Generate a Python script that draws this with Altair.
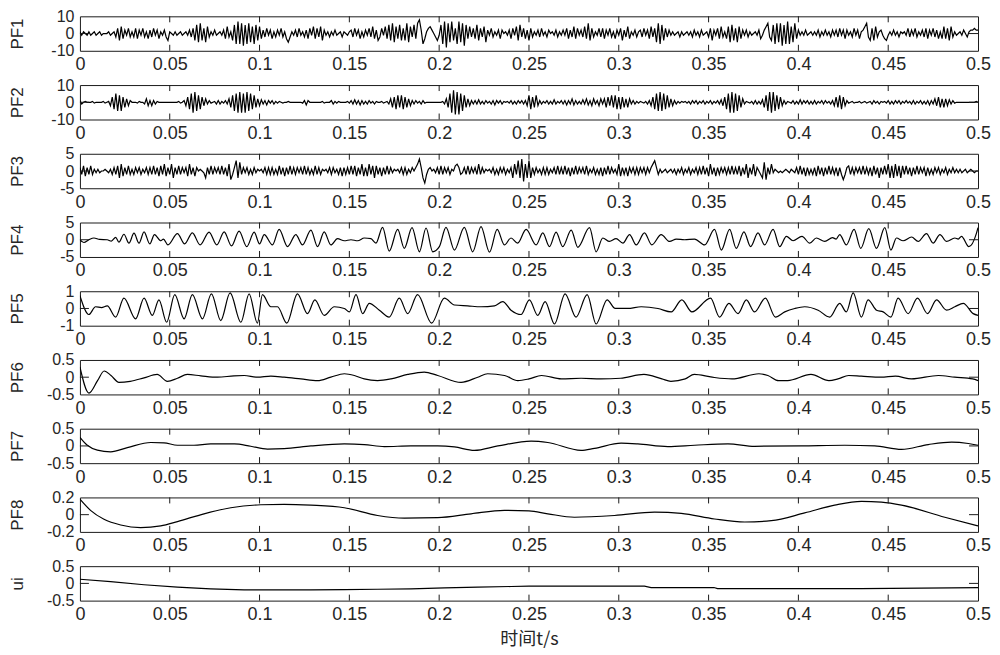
import altair as alt
import pandas as pd

# ---------------- data ----------------
X_TICKS = [0, 0.05, 0.1, 0.15, 0.2, 0.25, 0.3, 0.35, 0.4, 0.45, 0.5]

# PF1..PF3: one value per millisecond, t = 0 ... 500 ms
PF1 = [
    1, -1, 1, 0, -1, 1, -1, 0, 1, -1,
    0, 1, -1, 0, 0, 0, 1, -1, 0, 1,
    -2, 3, -4, 4, -3, 2, -1, 3, -2, 1,
    -2, 3, -3, 2, -1, 3, -2, 1, -3, 2,
    -2, 3, -1, 2, -3, 1, -1, 2, -2, -4,
    1, 0, -1, 1, -1, 0, 1, -1, 0, 1,
    -1, 2, -2, 3, -4, 5, -5, 6, -4, 3,
    -5, 4, -2, 1, -1, 2, -1, 0, 1, -1,
    2, -3, 4, -2, 1, -4, 5, -6, 7, -6,
    6, -7, 5, -6, 6, -5, 4, -6, 5, -4,
    4, -3, 2, -2, 3, -1, 2, -3, 1, -2,
    2, -1, 3, -2, 1, -3, -5, -2, 1, -1,
    2, -2, 3, -1, 1, -2, 2, -3, 3, -1,
    4, -3, 3, -2, 4, -4, 2, -1, 1, -2,
    1, -1, 2, -1, 0, 1, -2, 1, 0, -1,
    1, 2, -2, 3, -1, 2, -3, 1, -2, 2,
    -1, 3, -2, 4, -3, 2, -4, -2, 3, -1,
    4, -3, 5, -4, 6, -5, 4, -3, 5, -4,
    3, -4, 6, -5, 4, -2, 5, -3, 6, 8,
    2, -6, -3, 1, 3, 4, 2, 0, -2, -4,
    -1, 5, -6, 7, -8, 6, -5, 7, -4, 3,
    -6, 7, -5, 6, -7, 5, -3, 4, -2, 3,
    -3, 5, -4, 3, -2, 4, -5, 2, -1, 3,
    -2, 1, -1, 2, -3, 2, 0, 1, -1, 2,
    -3, 3, -1, 4, -4, 5, -2, 3, -3, 2,
    -4, 3, -2, 1, -1, 2, -2, 3, -1, 1,
    -2, 2, 0, 1, -1, 2, -2, 1, -1, 2,
    -1, 3, -3, 2, -2, 4, -3, 3, -1, 2,
    -2, 4, -3, 6, -4, 3, -2, 1, -1, 3,
    -2, 3, -3, 2, -1, 3, -2, 1, -3, 2,
    -1, 3, -4, 2, -2, 4, -3, 1, -1, 2,
    -2, 1, 2, -2, 3, -1, 2, -3, 4, -2,
    3, -5, 6, -6, 5, -4, 3, -2, 2, -1,
    1, -1, 0, 1, -2, 1, -1, 0, 1, -1,
    1, -2, 2, -1, 1, -2, 2, -1, 0, 1,
    -2, 3, -4, 2, -1, 3, -3, 4, -2, 1,
    -3, 4, -5, 5, -4, 3, -5, 4, -3, 2,
    -1, 2, -2, 1, -1, 0, 1, -1, 2, -3,
    -1, 2, 4, 6, -2, -4, 5, -6, 6, -5,
    6, -7, 5, -6, 7, -6, 4, -5, 6, -3,
    2, -1, 1, -1, 2, -1, 0, 1, -1, 1,
    -1, 2, -2, 1, -1, 2, -1, 1, -2, 2,
    -1, 2, -2, 3, -1, 2, -3, 2, -1, 1,
    -2, 3, -1, 2, -3, 1, 2, 4, 6, -2,
    -4, 3, -4, 4, -2, 1, 2, -1, -3, -4,
    -1, 1, -1, 2, -1, 1, -2, 1, 0, 1,
    -1, 3, -2, 2, -1, 3, -2, 1, -1, 2,
    -2, 3, -3, 2, -1, 3, -2, 2, -3, 1,
    -3, 4, -3, 3, -4, 4, -2, 1, -1, 0,
    1, -1, 2, 0, -2, 1, 2, 2, 3, 2,
    2,
]

PF2 = [
    1, -1, 0, 0.5, 0, 0, 0, 0.5, -0.5, 0,
    0, 0, 0, 0.5, -0.5, 0, 0.5, -2, 3, -4,
    5, -5, 4, -5, 3, -3, 2, -2, 1, 0,
    0, 0, -0.5, 0.5, 0, 0, -1, 2, -2, 1,
    -2, 1, -1, 0.5, 0, 0, 0, 0, 0, 0,
    0, 0, 0, 0, 0, 0.5, -0.5, 0, 1, -2,
    3, -4, 5, -6, 6, -5, 4, -4, 3, -2,
    2, -1, 1, -0.5, 0, 0.5, -1, 1, -1, 0.5,
    -0.5, 1, -1, 2, -3, 4, -5, 5, -6, 6,
    -6, 5, -6, 6, -5, 5, -4, 4, -3, 2,
    -2, 1.5, -1, 1, -1.5, 1, -0.5, 1, -1, 0.5,
    -0.5, 0.5, 0, -0.5, 0, 0, 0.5, 0, 0, 0,
    0, 0, 0, 0, -0.5, 1, -1.5, 1, 0, 0,
    0, 0, 0, 0, 0, 0.5, -0.5, 0, 0, 0,
    1, -1, 0.5, -0.5, 0.5, 0, 0, 0, 0, 0.5,
    -0.5, 1, -1, 1.5, -1, 1, -1.5, 1, -1, 0.5,
    -1, 1, -0.5, 0.5, -1, 0.5, 0, 0, 0.5, -0.5,
    0, 0.5, -1, 2, -3, 3, -4, 4, -3, 4,
    -4, 3, -3, 2, -2, 1, -1, 1, -0.5, 0.5,
    -1, 1, -0.5, 0, 0, 0, 0, 0, 0, 0,
    0, 0, 0.5, -1, 2, -3, 5, -6, 7, -7,
    6, -7, 5, -5, 4, -3, 2, -2, 1, -1,
    1, -1, 1.5, -1, 0.5, -1, 1, -0.5, 0.5, -1,
    1, -1.5, 1, -0.5, 1, -1, 0.5, 0, 0.5, -0.5,
    1, -1, 0.5, -1, 1, -0.5, 1, -1, 1, -2,
    4, -4, 3, -3, 4, -2, 1, -1, 0.5, -0.5,
    1, -1, 0.5, -1, 1.5, -1, 0.5, -0.5, 1, -1,
    1, -1.5, 1, -1, 2, -1.5, 1, -1, 0.5, -1,
    1.5, -1, 2, -1.5, 1, -2, 2, -1, 1, -2,
    2, -1, 2, -3, 3, -2, 4, -3, 4, -4,
    3, -4, 3, -3, 2, -3, 2, -1, 1, -1,
    0.5, -0.5, 0.5, 0, -0.5, 0.5, -1, 1, -2, 3,
    -4, 5, -5, 6, -5, 5, -4, 4, -3, 2,
    -2, 1, -1, 0.5, -0.5, 0.5, 0, 0.5, -0.5, 0.5,
    -1, 1, -0.5, 1, -1, 0.5, -0.5, 1, -1, 0.5,
    -0.5, 1, -1, 0.5, -0.5, 1, -1, 1.5, -2, 3,
    -4, 5, -6, 6, -6, 5, -5, 4, -3, 2,
    -1, 0.5, 0, -0.5, 0.5, -1, 1, -1, 0.5, -1,
    1.5, -3, 4, -5, 6, -6, 6, -5, 4, -4,
    3, -2, 1, -1, 0.5, 0, -0.5, 1, -1, 0.5,
    -1, 1.5, -1, 1, -0.5, 1, -1, 0.5, -1, 1,
    -1, 0.5, -0.5, 1, -1, 1, -0.5, 0.5, -1, 1,
    -2, 3, -3, 4, -4, 3, -2, 1, -0.5, 0,
    0.5, -0.5, 0, 0, 0.5, -0.5, 0, 0.5, -0.5, 0,
    0.5, -1, 1, -0.5, 0.5, -1, 0.5, 0, 0.5, -0.5,
    1, -1, 0.5, -1, 1, -0.5, 1, -1, 0.5, -0.5,
    1, -0.5, 0.5, -1, 1, -1, 0.5, -0.5, 1, -1,
    0.5, -1, 1, -1.5, 1, -1, 2, -2, 3, -3,
    2, -3, 2, -2, 1.5, -1, 1, -0.5, 0, 0,
    0, 0, 0, 0, 0, 0, 0, 0, 0, 0.5,
    0,
]

PF3 = [
    1, -1, 1.5, -1.5, 1, -1, 1.5, -1, 0.5, -0.5,
    0.5, -0.5, 0, 0, 0.5, 0, -0.5, 0.5, -1, 1,
    -1, 1.5, -2, 2, -1.5, 1, -1, 1.5, -1, 0.5,
    -1, 1, -0.5, 1, -1, 0.5, -0.5, 1, -1, 1,
    -1, 1.5, -1, 1, -1.5, 1.5, -1, 2, -1.5, 1,
    -1, 2, -2, 1, -1, 1.5, -1, 1, -0.5, 1,
    -1.5, 2, -1, 1, -1.5, 1, 0, 0.5, 0, -0.5,
    -2, 1, -1, 1.5, -1, 1, -0.5, 1, -1, 1.5,
    -1, 1, -1.5, 2, -2.5, -1, 1, 3, -2, 2.5,
    -1, 1, -0.5, 1, -1, 0.5, -1, 1, -0.5, 0.5,
    0, 0.5, -0.5, 1, -1, 1, -1, 1, -1, 0.5,
    -1, 1.5, -1, 1, -1.5, 1, -1, 1.5, -1, 1,
    -1, 1, -0.5, 1, -1, 1.5, -1, 1, -1, 0.5,
    -1, 1.5, -1, 1, -1, 0.5, 0, 0.5, -0.5, 1,
    -1, 1, -0.5, 0.5, -1, 1, -1.5, 1, -1, 1,
    -1, 1.5, -1, 1.5, -1.5, 1, -1, 2, -1.5, 1,
    -1.5, 2, -1, 1.5, -2, 1.5, -1, 1, -1.5, 1,
    -1, 1.5, -1, 1, -0.5, 0.5, 0, 0.5, -0.5, 1,
    -1, 1, -1, 0.5, -0.5, 1, 0, 1, 2, 3.5,
    1, -2, -3.5, -1, 0.5, 1, 0, 0.5, -0.5, 1,
    -1, 1.5, -1, 1, -0.5, 1, -1, 0.5, 0, 1.5,
    2, 1, -1, -0.5, 1, -1, 1.5, -1, 1, -0.5,
    1, -1, 2, -1, 1, -0.5, 0.5, 0, 0.5, -0.5,
    1, -1, 0.5, -1, 1, -0.5, 1, -1, 0.5, -0.5,
    1, -2, 2, -1, 3, -2, 3.5, -3, 2, -2,
    3, -2, 1, -1, 1, -0.5, 0.5, -1, 1, -1,
    1, -1, 0.5, -0.5, 1, -1, 1.5, -1, 1, -1,
    1.5, -1, 1, -1.5, 1, -1, 1.5, -1, 1, -0.5,
    1, -1, 1.5, -1, 0.5, -0.5, 1, -1, 0.5, -1,
    1, -1.5, 1, -1, 1.5, -1, 1, -0.5, 0.5, -1,
    2, -1.5, 1, -1, 1, -1.5, 1, -0.5, 1, -1,
    1, -1, 1, -0.5, 1, -1, 1, -0.5, 1, 2,
    3, 1, -1, 0.5, -0.5, 0, 0.5, -0.5, 0, 0.5,
    -0.5, 0.5, -1, 0.5, -0.5, 1, -1, 0.5, -0.5, 1,
    -1, 0.5, -0.5, 1, -1, 1, -1, 1.5, -1, 1,
    -1.5, 2, -1, 1, -1.5, 1, -1, 1, -0.5, 1,
    -1, 1, -1, 1.5, -1, 1, -1, 1.5, -1.5, 1,
    -1, 2, -2, 1, -1, 2, -1.5, 1, 0, -1,
    -2, 2.5, -2.5, 1, -1, 2, -0.5, 0.5, 0, -0.5,
    0, -0.5, 0, 0.5, 0, -0.5, 0.5, 0, -0.5, 1,
    -1, 1.5, -1, 1, -1.5, 1, -1, 0.5, -1, 1,
    -1.5, 1.5, -1, 1, -1.5, 1, -1, 1.5, -1, 1,
    -1, 1, -1.5, 1, -1, -2.5, -1, 1, 1.5, -1,
    1, -1, 1, -0.5, 1, -1, 1.5, -1, 1, -1,
    1, -1.5, 1.5, -1, 1, -2, 1, -1, 1.5, -1,
    2, -2, 1.5, -2, 2, -1.5, 1.5, -2, 1.5, -1,
    1.5, -1, 1, -1.5, 1, -1, 1.5, -1, 1, -0.5,
    1, -1.5, 1, -1, 0.5, -1, 1, -0.5, 1, -1,
    0.5, -0.5, 1, -1, 0.5, -0.5, 1, -0.5, 0.5, -0.5,
    0.5, -0.5, 0, 0.5, -0.5, 0, 0.5, 0, -0.5, 0,
    0,
]

# PF4..ui: (time in ms, value) at the turning points of the curve
PF4 = [
    (0, 0), (2.2, -0.8), (5, 0), (7.8, 0.5), (11, 0.1), (15.2, 0), (17.5, -0.4),
    (19.9, 0.7), (21.7, -0.7), (24.5, 1.6), (27.3, -1), (30.1, 1.9), (32.9, -1),
    (35.7, 2.3), (38.9, -1.2), (41.5, 1.5), (45, -0.3), (46.5, 0.2), (49, -1.5),
    (54.3, 1.8), (58.3, -1.2), (62.6, 2), (66.9, -1.5), (71.9, 2.2), (76.2, -1.5),
    (80.3, 2.3), (84.4, -1.8), (88.6, 2.5), (92.9, -2), (97, 2.2), (100, -1.2),
    (102.6, 1.5), (107.2, -1.5), (110.9, 3), (115.6, -2), (120.2, 1.5), (123.9, -1.5),
    (128.6, 2.8), (132.3, -2), (136, 2.3), (139.7, -1.5), (143.4, 0.3), (147.2, -0.3),
    (150.9, 0), (154.6, -0.3), (158.3, 0.5), (162, 0.3), (164.8, -1), (168.5, 3.6),
    (172.2, -3.3), (176.9, 3), (180.6, -2.5), (184.9, 3.5), (189, -3.5), (192.7, 3.4),
    (196.4, -3.5), (200.1, -2), (203.8, 3.6), (208.5, -3), (214, 3.6), (218.7, -3.5),
    (223.3, 3.8), (228, -3.6), (232.3, 3), (236.3, -1.5), (240, 0.5), (243.7, -1),
    (248.4, 3), (254, -1.5), (257.7, 2), (261.4, -2), (265.1, 2.2), (268.8, -2),
    (273.5, 2.8), (277.2, -2.2), (283.7, 3.5), (287.4, -3.5), (291.1, 0.5), (294.8, -0.5),
    (298.5, 0.3), (302.3, -1), (306, 1.5), (309.7, -1.5), (314.3, 2), (318.4, -1.5),
    (323.6, 1.5), (328.3, -0.5), (332, 0.2), (336.6, 0), (342.2, 0.2), (347.8, -1.5),
    (353.3, 3), (357.1, -3), (361.7, 3), (365.4, -2.5), (369.7, 2.3), (373.4, -2),
    (377.5, 2), (381.2, -1.5), (385.9, 3), (389.6, -2), (393.3, 1), (397, -0.3),
    (402, 1), (406.3, -1), (410, 0.5), (414.7, -0.5), (419, 0.6), (421, 0.2),
    (423, 1.5), (426.7, -1.5), (431, 3), (434.7, -2.5), (439.2, 3.2), (443.5, -2.5),
    (448.1, 3.5), (451.5, -3), (454.6, 0.5), (458.3, -0.3), (463, 0.8), (466.7, -0.5),
    (471.3, 1.8), (475, -1), (478.8, 1.5), (482.5, -0.5), (487.1, 0.5), (489, 0.2),
    (490.8, 1), (494.9, -2), (499.2, 2), (500, 3.5),
]

PF5 = [
    (0, 0.75), (5, -0.35), (8.7, 0.1), (12, 0.05), (15.2, 0.15), (19.9, -0.5),
    (24.5, 0.6), (31, -0.6), (35.7, 0.6), (40.3, -0.4), (44, 0.5), (48.3, -0.8),
    (52.8, 0.8), (58, -0.6), (62.6, 0.8), (68.2, -0.6), (73.2, 0.85), (78.4, -0.7),
    (83.6, 0.9), (89.6, -0.8), (94.2, 0.85), (98.8, -0.85), (101.6, 0.8), (106.3, 0.1),
    (110, 0.1), (115.2, -0.85), (121.1, 0.85), (126.7, -0.3), (130.8, 0.5), (136, -0.4),
    (141.6, 0.1), (147.2, 0), (150, -0.2), (153.7, 0.8), (157.4, -0.3), (161.1, 0.3),
    (166.7, -0.1), (172.2, -0.5), (177.8, 0.6), (182.5, -0.3), (188, 0.8), (195.8, -0.85),
    (202.9, 0.6), (208.5, 0.2), (215.9, 0.15), (223.3, 0.1), (230.8, 0.15), (235.4, 0.4),
    (240, -0.1), (245.6, -0.35), (250.2, 0.5), (254.9, -0.4), (259, 0.4), (264.2, -0.9),
    (270.1, 0.85), (276.2, -0.5), (282.4, 0.8), (287.4, -0.9), (293.5, 0.5), (298, 0),
    (305, 0), (312.5, 0.1), (321.8, 0), (329.2, -0.2), (335.1, 0.5), (340.7, -0.2),
    (351.1, 0.6), (356.1, -0.5), (361.3, 0.3), (366.4, -0.3), (371, 0.5), (375.6, -0.2),
    (381.6, 0.6), (387.2, -0.5), (392.4, -0.2), (398, 0), (403.5, 0.1), (411, -0.1),
    (417.4, -0.5), (423, 0.3), (426.7, -0.2), (430.5, 0.9), (435.1, -0.5), (438.8, 0.5),
    (443.5, -0.1), (447.2, -0.2), (451.5, -0.5), (455.5, 0.6), (461.1, -0.3), (466.3, 0.6),
    (471.9, -0.3), (476.9, 0.5), (482.5, -0.1), (487.1, 0.1), (491.8, 0.3), (497.3, -0.3),
    (500, -0.4),
]

PF6 = [
    (0, 0.3), (5, -0.46), (9.8, -0.1), (13.5, 0.18), (17.3, 0.05), (21.7, -0.15),
    (28, -0.12), (35.7, -0.02), (43, 0.08), (48.7, -0.12), (54.3, -0.03), (59.8, 0.08),
    (67.3, 0.04), (76.6, 0), (85.8, 0.04), (91.4, 0.05), (98.8, 0), (106.3, 0.03),
    (113.7, 0), (123, -0.05), (132.3, -0.1), (139.7, 0), (147.2, 0.1), (152.8, 0.05),
    (158.3, -0.05), (165.7, -0.1), (173.2, -0.05), (182.5, 0.08), (191.7, 0.15),
    (199.2, 0.05), (212.2, -0.15), (221.5, 0), (227, 0.1), (236.4, 0.05), (243.8, -0.1),
    (250, -0.05), (257, 0.05), (268, -0.05), (279, -0.03), (290, -0.05), (301, -0.03),
    (314, 0.08), (324, -0.05), (329, -0.12), (337, -0.05), (342, 0.08), (352, 0),
    (363, -0.05), (378, 0.1), (383, 0.05), (389, -0.1), (394, -0.1), (407, 0.08),
    (417, -0.1), (422, -0.05), (428, 0.05), (435, 0.03), (446, 0), (454, 0.03),
    (463, -0.05), (478, 0.05), (487, 0), (497, -0.05), (500, -0.1),
]

PF7 = [
    (0, 0.25), (4.1, 0.02), (9.7, -0.12), (17.1, -0.17), (26.4, -0.05), (39.5, 0.1),
    (46.8, 0.09), (54.3, 0.02), (63.5, 0.02), (72.8, 0.06), (86, 0.06), (95.1, -0.01),
    (104.4, -0.09), (113.7, -0.08), (128.6, 0), (147.2, 0.06), (158.3, 0.04),
    (169.5, -0.02), (184.3, 0), (199.2, 0), (208.5, -0.03), (219.6, -0.13), (232.7, 0),
    (251.2, 0.14), (260.5, 0.1), (279, -0.13), (286.5, -0.07), (301.3, 0.08),
    (310.6, 0.06), (327.3, -0.02), (342.2, 0.02), (360.8, 0.06), (375.6, -0.01),
    (401.7, 0), (425.8, 0.02), (442.5, 0), (457.4, -0.1), (472.3, 0.04), (485.3, 0.11),
    (494.6, 0.07), (500, 0.02),
]

PF8 = [
    (0, 0.18), (5.9, 0.05), (13.4, -0.054), (22.7, -0.12), (33.8, -0.15), (45, -0.13),
    (54.3, -0.08), (69.1, 0.01), (84, 0.08), (100.7, 0.115), (113.7, 0.12), (128.6, 0.11),
    (147.2, 0.08), (165.7, -0.01), (180.6, -0.04), (199.2, -0.035), (217.8, 0.01),
    (236.3, 0.05), (250, 0.045), (260.5, 0.01), (275.3, -0.03), (297.6, -0.01),
    (319.9, 0.03), (334.8, 0.015), (353.3, -0.05), (370.1, -0.085), (384.9, -0.07),
    (403.5, 0.02), (420.2, 0.11), (435.1, 0.155), (446.2, 0.145), (457.4, 0.11),
    (481.5, -0.03), (500, -0.13),
]

UI = [
    (0, 0.12), (17.1, 0.05), (35.7, -0.04), (54.3, -0.11), (72.8, -0.16), (91.4, -0.19),
    (110, -0.19), (128.6, -0.19), (147.2, -0.18), (165.7, -0.17), (184.3, -0.16),
    (203, -0.13), (221.5, -0.11), (240, -0.09), (250, -0.08), (314.3, -0.08),
    (318, -0.12), (353, -0.12), (355, -0.15), (435, -0.15), (485, -0.13), (500, -0.12),
]

PANELS = [
    ("PF1", PF1, [-10, 0, 10], "linear"),
    ("PF2", PF2, [-10, 0, 10], "linear"),
    ("PF3", PF3, [-5, 0, 5], "linear"),
    ("PF4", PF4, [-5, 0, 5], "monotone"),
    ("PF5", PF5, [-1, 0, 1], "monotone"),
    ("PF6", PF6, [-0.5, 0, 0.5], "monotone"),
    ("PF7", PF7, [-0.5, 0, 0.5], "monotone"),
    ("PF8", PF8, [-0.2, 0, 0.2], "monotone"),
    ("ui", UI, [-0.5, 0, 0.5], "linear"),
]

# ---------------- layout / style ----------------
W = 899
H = 34.5
GAP = 33.8
FRAME = "#1a1a1a"
TEXT = "#262626"
LATIN = "Liberation Sans"
CJK = "Noto Sans CJK SC"


def to_frame(series):
    if isinstance(series[0], tuple):
        return pd.DataFrame({"t": [p[0] / 1000 for p in series], "v": [p[1] for p in series]})
    return pd.DataFrame({"t": [i / 1000 for i in range(len(series))], "v": series})


def panel(name, series, yvals, interp, last):
    xaxis_kw = dict(values=X_TICKS, labelExpr="toString(datum.value)", labelFlush=False,
                    labelOverlap=False, labelPadding=5, labelFontSize=18)
    if last:
        xaxis_kw.update(title="时间t/s", titleFont=CJK, titleFontSize=18, titleY=39,
                        titleBaseline="middle")
    else:
        xaxis_kw.update(title=None)
    xenc = alt.X("t:Q", scale=alt.Scale(domain=[0, 0.5], nice=False, zero=False),
                 axis=alt.Axis(**xaxis_kw))
    yenc = alt.Y("v:Q", scale=alt.Scale(domain=[yvals[0], yvals[-1]], nice=False, zero=False),
                 axis=alt.Axis(values=yvals, labelExpr="toString(datum.value)", labelOverlap=False,
                               labelPadding=6, labelFontSize=16, title=name, titleX=-62,
                               titleY=H / 2, titleAngle=270, titleAlign="center",
                               titleBaseline="middle"))

    line = alt.Chart(to_frame(series)).mark_line(
        color="black", strokeWidth=1.2, interpolate=interp, clip=True
    ).encode(x=xenc, y=yenc)

    xt = pd.DataFrame({"t": X_TICKS[1:-1]})
    yt = pd.DataFrame({"v": [0]})
    top = alt.Chart(xt).mark_rule(color=FRAME, strokeWidth=1).encode(
        x=xenc, y=alt.value(0), y2=alt.value(6))
    bottom = alt.Chart(xt).mark_rule(color=FRAME, strokeWidth=1).encode(
        x=xenc, y=alt.value(H - 6), y2=alt.value(H))
    left = alt.Chart(yt).mark_rule(color=FRAME, strokeWidth=1).encode(
        y=yenc, x=alt.value(0), x2=alt.value(9))
    right = alt.Chart(yt).mark_rule(color=FRAME, strokeWidth=1).encode(
        y=yenc, x=alt.value(W - 9), x2=alt.value(W))
    return alt.layer(line, top, bottom, left, right).properties(width=W, height=H)


charts = [panel(n, s, yv, ip, i == len(PANELS) - 1) for i, (n, s, yv, ip) in enumerate(PANELS)]

chart = alt.vconcat(*charts, spacing=GAP, bounds="flush").properties(
    padding={"left": 0, "top": -1, "right": 0, "bottom": 0},
    background="white",
).configure_view(
    stroke=FRAME, strokeWidth=1
).configure_axis(
    labelFont=LATIN, labelColor=TEXT,
    titleFont=LATIN, titleFontSize=17, titleFontWeight="normal", titleColor=TEXT,
    grid=False, domain=False, ticks=False,
)

chart.save("out.html", embed_options={"renderer": "svg", "actions": False})
